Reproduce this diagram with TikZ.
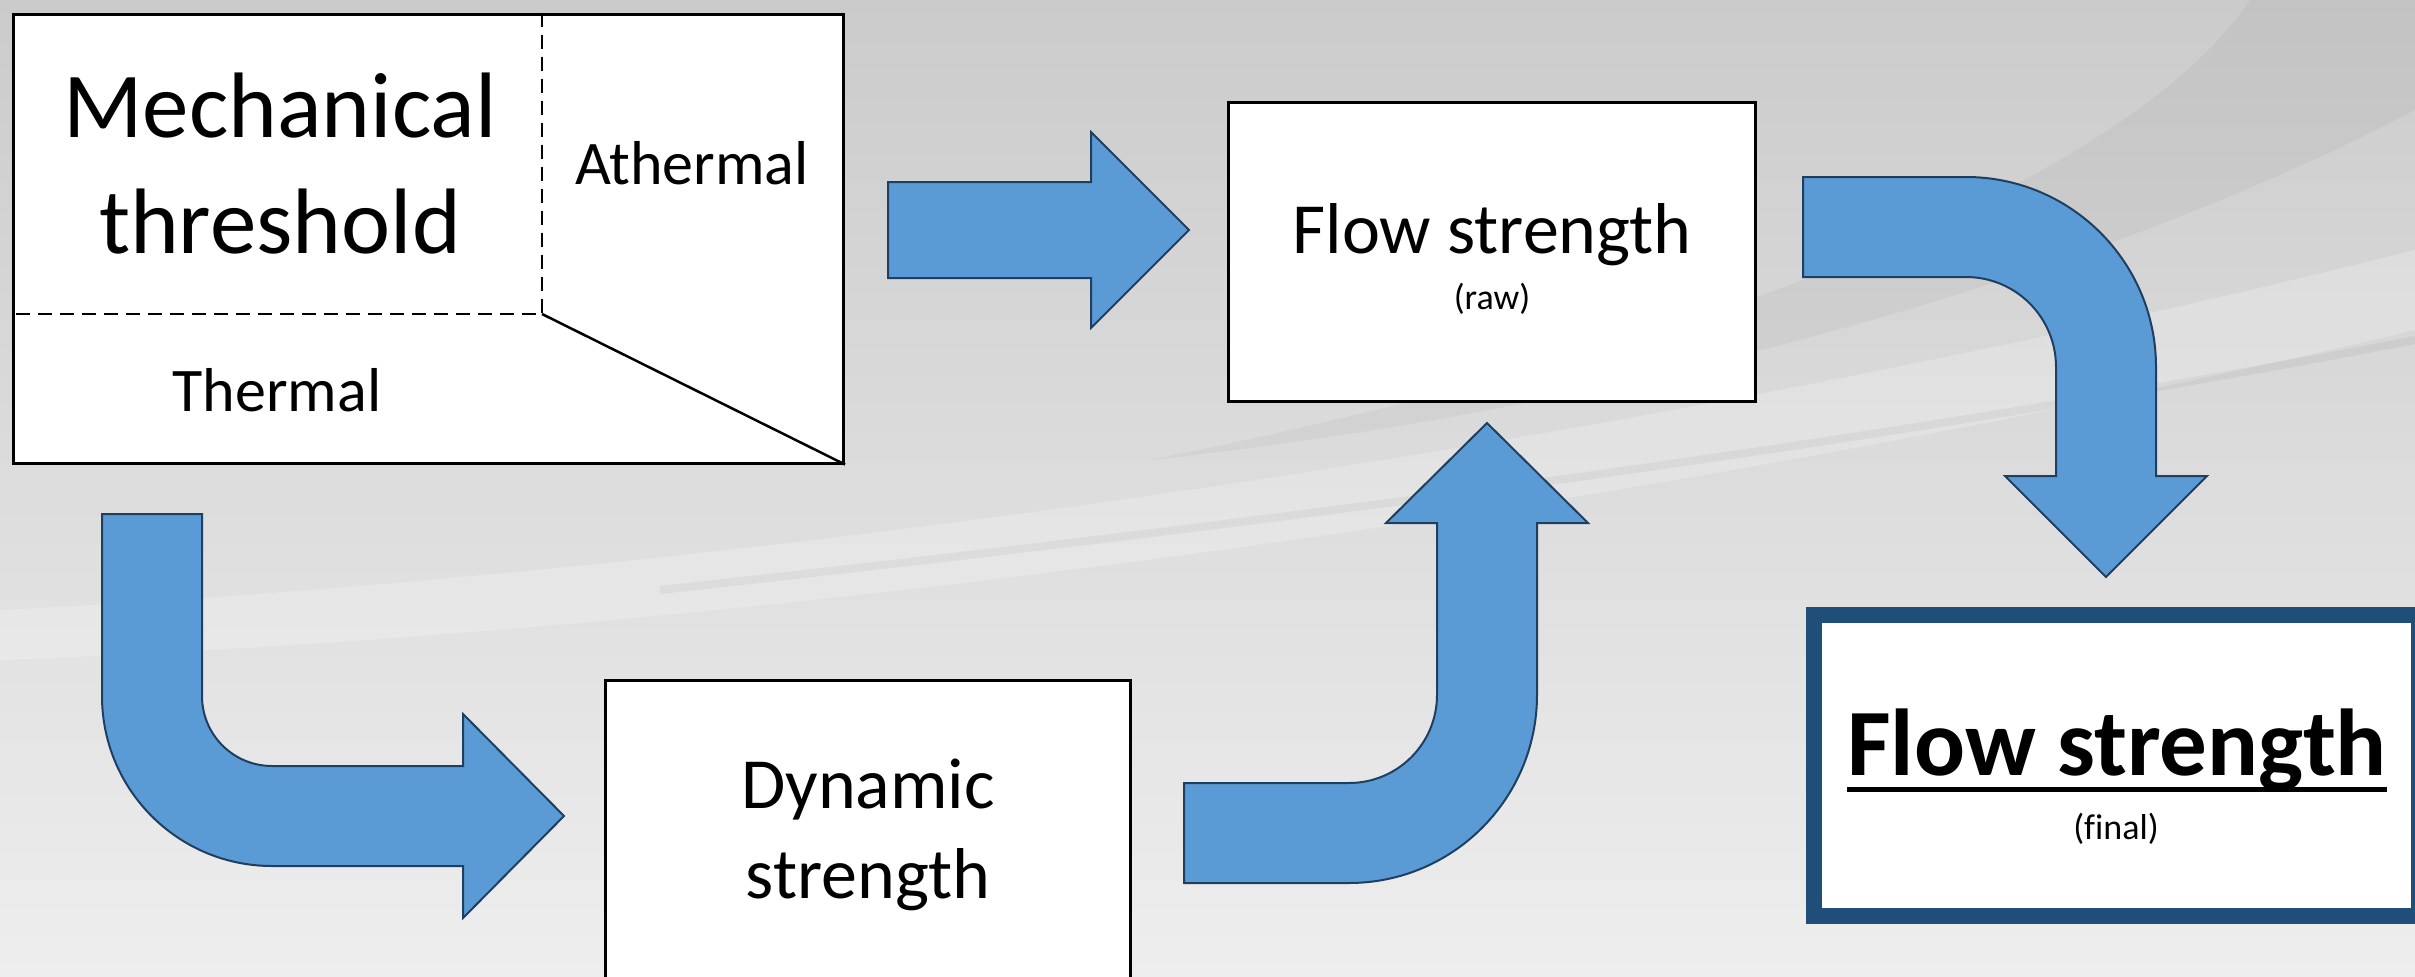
\documentclass[tikz,border=0pt]{standalone}
\usepackage{fontspec}
\setmainfont[Ligatures=NoCommon]{Carlito}
\usetikzlibrary{calc}
\definecolor{arrowfill}{HTML}{5B9BD5}
\definecolor{arrowline}{HTML}{1F3F60}
\definecolor{finalblue}{HTML}{1F4E79}
\definecolor{bgtop}{HTML}{CBCBCB}
\definecolor{bgbot}{HTML}{EEEEEE}
\begin{document}
\begin{tikzpicture}[x=1pt,y=-1pt,
  boxline/.style={draw=black,line width=3pt,fill=white,inner sep=0pt},
  blockarrow/.style={fill=arrowfill,draw=arrowline,line width=2pt,line join=miter},
  lbl/.style={inner sep=0pt,anchor=base,text=black},
  dashline/.style={draw=black,line width=2.5pt,dash pattern=on 14pt off 8pt},
  big/.style={font=\fontsize{93pt}{116pt}\selectfont},
  mid/.style={font=\fontsize{62pt}{75pt}\selectfont},
  main/.style={font=\fontsize{72pt}{90pt}\selectfont},
  small/.style={font=\fontsize{36pt}{44pt}\selectfont},
  finalfont/.style={font=\fontsize{95pt}{116pt}\selectfont\bfseries},
]
\useasboundingbox (0,0) rectangle (2415,977);
\begin{scope}
\clip (0,0) rectangle (2415,977);
% background
\shade[top color=bgtop,bottom color=bgbot] (0,0) rectangle (2415,977);
\fill[white,opacity=0.22] (0,610) .. controls (800,570) and (1700,430) .. (2415,250)
  -- (2415,330) .. controls (1700,500) and (800,630) .. (0,660) -- cycle;
\fill[black,opacity=0.035] (1150,460) .. controls (1700,400) and (2150,250) .. (2415,110)
  -- (2415,0) -- (2250,0) .. controls (2150,150) and (1800,330) .. (1150,460) -- cycle;
\draw[black,opacity=0.045,line width=8pt] (660,590) .. controls (1300,520) and (1900,440) .. (2415,340);

% boxes
\node[boxline,minimum width=830pt,minimum height=449pt] (mech) at (428.5,238.5) {};
\node[boxline,minimum width=527pt,minimum height=299pt] (raw) at (1492,252) {};
\node[boxline,minimum width=525pt,minimum height=340pt] (dyn) at (868,850.5) {};
\node[draw=finalblue,line width=16pt,fill=white,inner sep=0pt,minimum width=605pt,minimum height=301pt] (final) at (2116.5,765.5) {};

% partitions of the mechanical threshold box
\coordinate (split) at (542,314);
\draw[dashline] (split |- mech.north) -- (split) -- (split -| mech.west);
\draw[black,line width=2.5pt] (split) -- (mech.south east);

% texts
\node[lbl,big] (mechA) at (280,137) {Mechanical};
\node[lbl,big] (mechB) at (280,253) {threshold};
\node[lbl,mid] (ath) at (692,184) {Athermal};
\node[lbl,mid] (therm) at (277,411) {Thermal};
\node[lbl,main] (rawA) at (1492,253) {Flow strength};
\node[lbl,small] (rawB) at (1492,309) {(raw)};
\node[lbl,main] (dynA) at (868,808) {Dynamic};
\node[lbl,main] (dynB) at (868,898) {strength};
\node[lbl,finalfont] (finA) at (2117,775) {Flow strength};
\draw[black,line width=5pt] ([yshift=-14pt]finA.base west) -- ([yshift=-14pt]finA.base east);
\node[lbl,small] (finB) at (2116,839) {(final)};

% block arrows
% straight right arrow: mechanical threshold -> flow strength (raw)
\draw[blockarrow] (888,182) -- (1091,182) -- (1091,132) -- (1189,230) -- (1091,328) -- (1091,278) -- (888,278) -- cycle;
% bent arrow: down then right, into dynamic strength
\draw[blockarrow] (102,514) -- (102,696)
  .. controls (102,789.9) and (178.1,866) .. (272,866)
  -- (463,866) -- (463,918) -- (564,816) -- (463,714) -- (463,766) -- (272,766)
  .. controls (233.3,766) and (202,734.7) .. (202,696)
  -- (202,514) -- cycle;
% bent arrow: right then up, into flow strength (raw)
\draw[blockarrow] (1184,783) -- (1349,783)
  .. controls (1397.6,783) and (1437,743.6) .. (1437,695)
  -- (1437,523) -- (1386,523) -- (1487,423) -- (1588,523) -- (1537,523) -- (1537,695)
  .. controls (1537,798.8) and (1452.8,883) .. (1349,883)
  -- (1184,883) -- cycle;
% bent arrow: right then down, into final flow strength
\draw[blockarrow] (1803,177) -- (1966,177)
  .. controls (2070.9,177) and (2156,262.1) .. (2156,367)
  -- (2156,476) -- (2207,476) -- (2106,577) -- (2005,476) -- (2056,476) -- (2056,367)
  .. controls (2056,317.3) and (2015.7,277) .. (1966,277)
  -- (1803,277) -- cycle;
\end{scope}
\end{tikzpicture}
\end{document}
